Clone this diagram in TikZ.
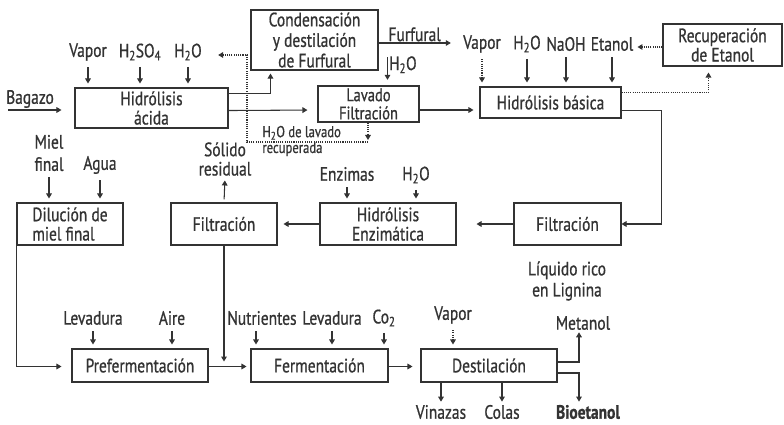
\documentclass[tikz,border=0pt]{standalone}
\usepackage{fontspec}
\setmainfont{PT Sans}[FakeStretch=0.8,FakeBold=0.8]
\usetikzlibrary{arrows.meta,positioning,calc}
\definecolor{ink}{HTML}{333333}
\tikzset{
  block/.style = {draw=ink, line width=0.9pt, rectangle, align=center, inner sep=1pt},
  lbl/.style   = {inner sep=1pt, align=center},
  sig/.style   = {draw=ink, line width=0.9pt, -{Triangle[length=1.5mm,width=1.7mm]}},
  dsig/.style  = {sig, densely dotted},
  feed/.style  = {sig, shorten <=1.5mm, shorten >=1.2mm},
  dfeed/.style = {feed, densely dotted},
}
\begin{document}
\begin{tikzpicture}[x=0.03cm, y=-0.03cm,
  every node/.style={font=\fontsize{16.5}{16.5}\selectfont, text=ink}]
\useasboundingbox (0,0) rectangle (784,425);
% process blocks
\node[block, minimum width=4.59cm, minimum height=1.2cm] (hac) at (151.5,108) {Hidrólisis\\ácida};
\node[block, minimum width=3.81cm, minimum height=1.8cm, font=\fontsize{16.5}{17.5}\selectfont] (cond) at (314.5,40) {Condensación\\y destilación\\de Furfural};
\node[block, minimum width=3.03cm, minimum height=1.08cm, inner sep=0pt, font=\fontsize{15.5}{15.5}\selectfont] (lav) at (368.5,104) {Lavado\\Filtración};
\node[block, minimum width=4.23cm, minimum height=0.93cm] (hbas) at (550.5,102.5) {Hidrólisis básica};
\node[block, minimum width=3.57cm, minimum height=1.26cm] (recup) at (722.5,45) {Recuperación\\de Etanol};
\node[block, minimum width=3.21cm, minimum height=1.26cm] (filtR) at (567.5,224) {Filtración};
\node[block, minimum width=4.08cm, minimum height=1.26cm] (henz) at (388,224) {Hidrólisis\\Enzimática};
\node[block, minimum width=3.18cm, minimum height=1.26cm] (filtM) at (224,224) {Filtración};
\node[block, minimum width=3.18cm, minimum height=1.26cm, align=left] (dil) at (70,224) {Dilución de\\miel final};
\node[block, minimum width=4.08cm, minimum height=0.99cm] (pref) at (140,365.5) {Prefermentación};
\node[block, minimum width=4.11cm, minimum height=0.99cm] (ferm) at (319.5,365.5) {Fermentación};
\node[block, minimum width=4.08cm, minimum height=0.99cm] (dest) at (489,365.5) {Destilación};

% inputs and outputs
\node[lbl] (bag) at (30,99) {Bagazo};
\coordinate (bagin) at (8,110);
\node[lbl] (vapA) at (88,52) {Vapor};
\node[lbl] (h2so) at (140,52) {H\textsubscript{2}SO\textsubscript{4}};
\node[lbl] (h2oA) at (188,52) {H\textsubscript{2}O};
\node[lbl] (vapB) at (482,44) {Vapor};
\node[lbl] (h2oB) at (527,44) {H\textsubscript{2}O};
\node[lbl] (naoh) at (566,44) {NaOH};
\node[lbl] (etan) at (612,44) {Etanol};
\node[lbl, align=left, anchor=west, font=\fontsize{13.5}{13.5}\selectfont] (rec) at (261,141) {H\textsubscript{2}O de lavado\\recuperada};
\node[lbl] (sol) at (225,159) {Sólido\\residual};
\node[lbl] (enz) at (347,174) {Enzimas};
\node[lbl] (h2oE) at (416,175) {H\textsubscript{2}O};
\node[lbl, font=\fontsize{16.5}{19}\selectfont] (miel) at (49,153) {Miel\\final};
\node[lbl] (agua) at (100,165) {Agua};
\node[lbl, font=\fontsize{16.5}{18}\selectfont] (liq) at (567,281) {Líquido rico\\en Lignina};
\node[lbl] (levA) at (93,318) {Levadura};
\node[lbl] (aire) at (172,318) {Aire};
\node[lbl] (nut) at (262,318) {Nutrientes};
\node[lbl] (levB) at (332,318) {Levadura};
\node[lbl] (co2) at (384,318) {Co\textsubscript{2}};
\node[lbl] (vapD) at (453,315) {Vapor};
\node[lbl] (met) at (583,323) {Metanol};
\node[lbl] (vin) at (441,412) {Vinazas};
\node[lbl] (col) at (502,412) {Colas};
\node[lbl, font=\fontsize{16.5}{16.5}\selectfont\bfseries] (bio) at (588,412) {Bioetanol};

% feeds
\foreach \n in {vapA,h2so,h2oA} \draw[feed] (\n) -- (\n |- hac.north);
\foreach \n in {h2oB,naoh,etan} \draw[feed] (\n) -- (\n |- hbas.north);
\draw[dfeed] (vapB) -- (vapB |- hbas.north);
\foreach \n in {enz,h2oE} \draw[feed] (\n) -- (\n |- henz.north);
\foreach \n in {miel,agua} \draw[feed] (\n) -- (\n |- dil.north);
\foreach \n in {levA,aire} \draw[feed] (\n) -- (\n |- pref.north);
\coordinate (nutb) at ($(nut.south)+(-6,0)$);
\draw[feed] (nutb) -- (nutb |- ferm.north);
\foreach \n in {levB,co2} \draw[feed] (\n) -- (\n |- ferm.north);
\draw[dfeed] (vapD) -- (vapD |- dest.north);

% main line
\draw[sig, shorten >=0.39cm] (bagin) -- (hac.west |- bagin);
\draw[sig, shorten >=0.09cm] ($(hac.north east)+(0,6)$) -| ($(cond.south west)+(20,0)$);
\draw[sig, shorten >=0.3cm] ($(hac.south east)+(0,-18)$) -- ($(lav.west)+(0,6)$);
\draw[sig] ($(cond.east)+(0,3)$) -- node[above, lbl] (furf) {Furfural} ($(vapB.west)+(-11,-1)$);
\draw[sig, shorten >=0.05cm] ($(lav.north)+(19,-28)$) -- node[right, pos=0.3, lbl] (h2oL) {H\textsubscript{2}O} ($(lav.north)+(19,-4)$);
\draw[sig, shorten >=0.18cm] ($(lav.east)+(0,6)$) -- ($(hbas.west)+(0,7.5)$);
\draw[dsig, shorten >=0.18cm] ($(hbas.north east)+(0,6)$) -| ($(recup.south west)+(46,0)$);
\draw[dsig] ($(recup.west)+(0,2)$) -- ($(recup.west)+(-25,2)$);
\draw[sig] ($(hbas.south east)+(0,-8)$) -| ($(filtR.east)+(40,0)$) -- (filtR.east);
\draw[sig, shorten >=0.6cm] (filtR.west) -- (henz.east);
\draw[sig, shorten >=0.18cm] (henz.west) -- (filtM.east);
\draw[sig, shorten <=0.09cm, shorten >=0.1cm] (filtM.north) -- (sol.south);
\draw[sig, shorten >=0.12cm] (filtM.south) -- (filtM.south |- pref.east);
\draw[sig, shorten >=0.3cm] (dil.south west) |- ($(pref.west)+(0,1)$);
\draw[sig, shorten >=0.12cm] ($(pref.east)+(0,1)$) -- ($(ferm.west)+(0,1)$);
\draw[sig, shorten >=0.24cm] ($(ferm.east)+(0,1)$) -- ($(dest.west)+(0,1)$);
\draw[sig] ($(dest.east)+(0,-3.5)$) -| ($(met.south)+(-4,1)$);
\draw[sig] ($(dest.east)+(0,7.5)$) -| ($(bio.north)+(-9,-2)$);
\draw[sig] (dest.south -| vin) -- ($(vin.north)+(0,-2)$);
\draw[sig] (dest.south -| col) -- ($(col.north)+(0,-2)$);

% recovered wash water
\coordinate (jr) at (368,142);
\coordinate (jl) at (247,142);
\draw[dsig, shorten >=0.06cm] (lav.south -| jr) -- (jr);
\draw[dsig] (jr) -- (jl) |- ($(h2oA.east)+(15,3)$);
\end{tikzpicture}
\end{document}
